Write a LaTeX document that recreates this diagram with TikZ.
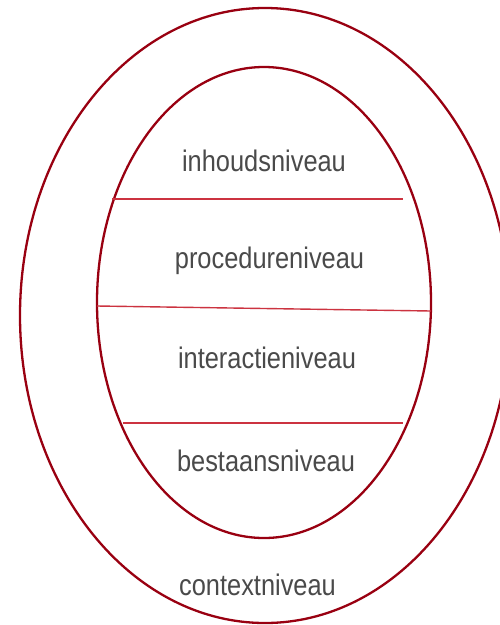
\documentclass[tikz,border=0pt]{standalone}
\usepackage{fontspec}
\setmainfont{Liberation Sans}
\definecolor{ringred}{HTML}{990011}
\definecolor{linered}{HTML}{CC3340}
\definecolor{txtgray}{HTML}{4A4A4A}
\begin{document}
\begin{tikzpicture}[x=1pt,y=-1pt,
  ring/.style={draw=ringred,line width=2.3pt},
  divider/.style={draw=linered,line width=1.4pt},
  lbl/.style={anchor=base,inner sep=0pt,text=txtgray,font=\fontsize{25.4}{28}\selectfont}]
\useasboundingbox (0,0) rectangle (499,625);
\path[fill=white] (0,0) rectangle (499,625);
\draw[ring] (265,315.5) ellipse [x radius=245,y radius=307.5];
\draw[ring] (264,302.5) ellipse [x radius=167,y radius=235.5];
\coordinate (l1a) at (112,199); \coordinate (l1b) at (403,199);
\coordinate (l2a) at (97,306); \coordinate (l2b) at (431,311);
\coordinate (l3a) at (123,423); \coordinate (l3b) at (403,423);
\draw[divider] (l1a) -- (l1b);
\draw[divider] (l2a) -- (l2b);
\draw[divider] (l3a) -- (l3b);
\node[lbl] (inh) at (264,171) {\scalebox{1}[1.17]{inhoudsniveau}};
\node[lbl] (pro) at (269.5,268) {\scalebox{1}[1.17]{procedureniveau}};
\node[lbl] (int) at (267,368) {\scalebox{1}[1.17]{interactieniveau}};
\node[lbl] (bes) at (266,471) {\scalebox{1}[1.17]{bestaansniveau}};
\node[lbl] (con) at (257.5,595) {\scalebox{1}[1.17]{contextniveau}};
\end{tikzpicture}
\end{document}
